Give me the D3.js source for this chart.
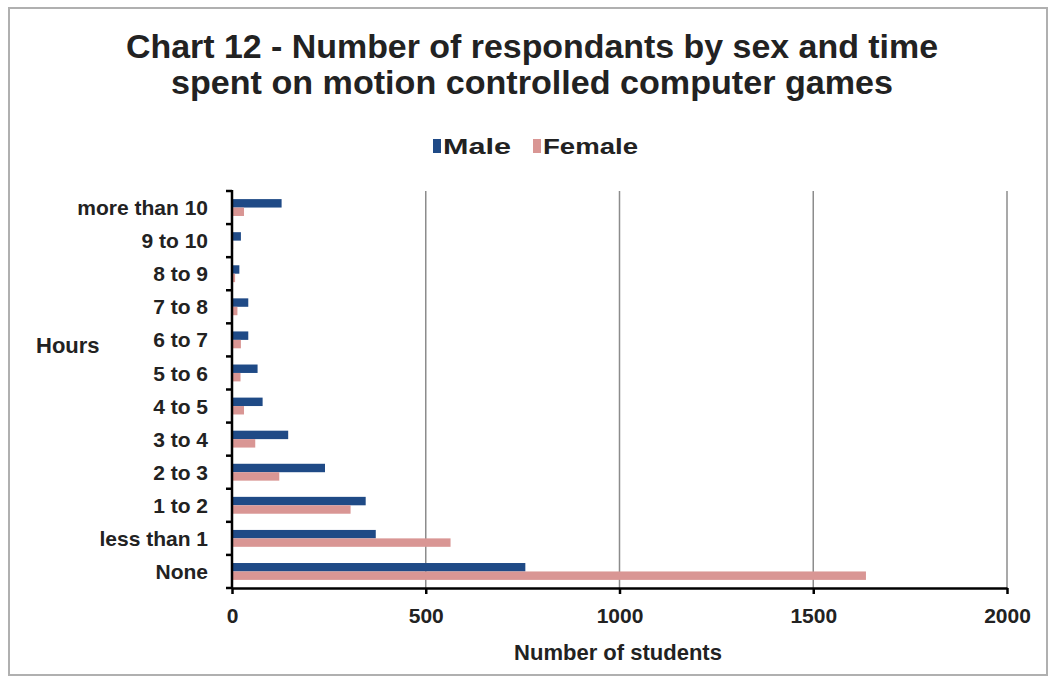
<!DOCTYPE html>
<html>
<head>
<meta charset="utf-8">
<script src="https://cdn.jsdelivr.net/npm/d3@7"></script>
<style>
  body { margin: 0; background: #fff; }
  text { font-family: "Liberation Sans Narrow", "Arial Narrow", "Liberation Sans", Arial, sans-serif; font-weight: bold; fill: #222; }
</style>
</head>
<body>
<script>
// data
var categories = ["None", "less than 1", "1 to 2", "2 to 3", "3 to 4", "4 to 5",
                  "5 to 6", "6 to 7", "7 to 8", "8 to 9", "9 to 10", "more than 10"];
var maleValues = [757, 371, 345, 240, 145, 79, 66, 42, 42, 19, 23, 128];
var femaleValues = [1636, 564, 306, 122, 60, 31, 22, 23, 14, 8, 3, 31];
var seriesNames = ["Male", "Female"];
var seriesColors = ["#1F4A86", "#D99694"];
var xTicks = [0, 500, 1000, 1500, 2000];

var W = 1049, H = 677;
var margin = { top: 191, left: 232, right: 42, bottom: 89 };
var width = W - margin.left - margin.right,
    height = H - margin.top - margin.bottom;

var rows = categories.map(function(c, i) {
  return { cat: c, Male: maleValues[i], Female: femaleValues[i] };
});

var svg = d3.select("body").append("svg")
  .attr("width", W)
  .attr("height", H);

// chart border
svg.append("rect")
  .attr("x", 9).attr("y", 8)
  .attr("width", 1038).attr("height", 667)
  .attr("fill", "#fff")
  .attr("stroke", "#b0b0b0")
  .attr("stroke-width", 2);

// title
var titleLines = [
  { text: "Chart 12 - Number of respondants by sex and time", y: 58, len: 812 },
  { text: "spent on motion controlled computer games", y: 94, len: 722 }
];
titleLines.forEach(function(l) {
  svg.append("text")
    .attr("x", 532).attr("y", l.y)
    .attr("text-anchor", "middle")
    .attr("textLength", l.len)
    .attr("lengthAdjust", "spacingAndGlyphs")
    .style("font-size", "33px")
    .text(l.text);
});

// legend
var legend = svg.append("g");
var legendX = [433, 533];
var legendLen = [68, 95];
seriesNames.forEach(function(name, i) {
  legend.append("rect")
    .attr("x", legendX[i]).attr("y", 139)
    .attr("width", 8).attr("height", 14)
    .attr("fill", seriesColors[i]);
  legend.append("text")
    .attr("x", legendX[i] + 10).attr("y", 154)
    .attr("textLength", legendLen[i])
    .attr("lengthAdjust", "spacingAndGlyphs")
    .style("font-size", "22px")
    .text(name);
});

var g = svg.append("g")
  .attr("transform", "translate(" + margin.left + "," + margin.top + ")");

var x = d3.scaleLinear().domain([0, 2000]).range([0, width]);

// categories go bottom (None) to top
var y = d3.scaleBand()
  .domain(categories.slice().reverse())
  .range([0, height])
  .paddingInner(0.49)
  .paddingOuter(0.245);

var ySub = d3.scaleBand().domain(seriesNames).range([0, y.bandwidth()]);

// gridlines
g.selectAll(".grid")
  .data(xTicks.slice(1))
  .enter().append("line")
  .attr("class", "grid")
  .attr("x1", function(d) { return x(d); })
  .attr("x2", function(d) { return x(d); })
  .attr("y1", 0).attr("y2", height)
  .attr("stroke", "#8c8c8c")
  .attr("stroke-width", 1.5);

// bars
var groups = g.selectAll(".row")
  .data(rows)
  .enter().append("g")
  .attr("class", "row")
  .attr("transform", function(d) { return "translate(0," + y(d.cat) + ")"; });

groups.selectAll("rect")
  .data(function(d) { return seriesNames.map(function(s) { return { key: s, value: d[s] }; }); })
  .enter().append("rect")
  .attr("x", x(0))
  .attr("y", function(d) { return ySub(d.key); })
  .attr("width", function(d) { return x(d.value) - x(0); })
  .attr("height", ySub.bandwidth())
  .attr("fill", function(d, i) { return seriesColors[i]; });

// x axis
var xAxis = g.append("g")
  .attr("transform", "translate(0," + height + ")")
  .call(d3.axisBottom(x).tickValues(xTicks).tickFormat(d3.format("d"))
    .tickSize(6).tickSizeOuter(0).tickPadding(14));
xAxis.select(".domain").attr("stroke", "#000").attr("stroke-width", 2.5);
xAxis.selectAll(".tick line").attr("stroke", "#000").attr("stroke-width", 2.5);
xAxis.selectAll(".tick text")
  .style("font-size", "21px")
  .style("font-family", "\"Liberation Sans Narrow\", \"Arial Narrow\", Arial, sans-serif")
  .style("font-weight", "bold")
  .attr("fill", "#222");

// y axis: category boundary ticks like excel
var yAxis = g.append("g");
yAxis.append("line")
  .attr("x1", 0).attr("x2", 0)
  .attr("y1", -1).attr("y2", height + 1)
  .attr("stroke", "#000").attr("stroke-width", 2.5);
var bounds = d3.range(categories.length + 1).map(function(i) { return i * y.step(); });
yAxis.selectAll(".ytick")
  .data(bounds)
  .enter().append("line")
  .attr("x1", -6).attr("x2", 0)
  .attr("y1", function(d) { return d; })
  .attr("y2", function(d) { return d; })
  .attr("stroke", "#000").attr("stroke-width", 2.5);
yAxis.selectAll(".ylabel")
  .data(categories)
  .enter().append("text")
  .attr("x", -24)
  .attr("y", function(d) { return y(d) + y.bandwidth() / 2; })
  .attr("dy", "0.36em")
  .attr("text-anchor", "end")
  .style("font-size", "21px")
  .text(function(d) { return d; });

// axis titles
svg.append("text")
  .attr("x", 618)
  .attr("y", 660)
  .attr("text-anchor", "middle")
  .style("font-size", "22px")
  .text("Number of students");

svg.append("text")
  .attr("x", 36)
  .attr("y", 353)
  .style("font-size", "22px")
  .text("Hours");
</script>
</body>
</html>
